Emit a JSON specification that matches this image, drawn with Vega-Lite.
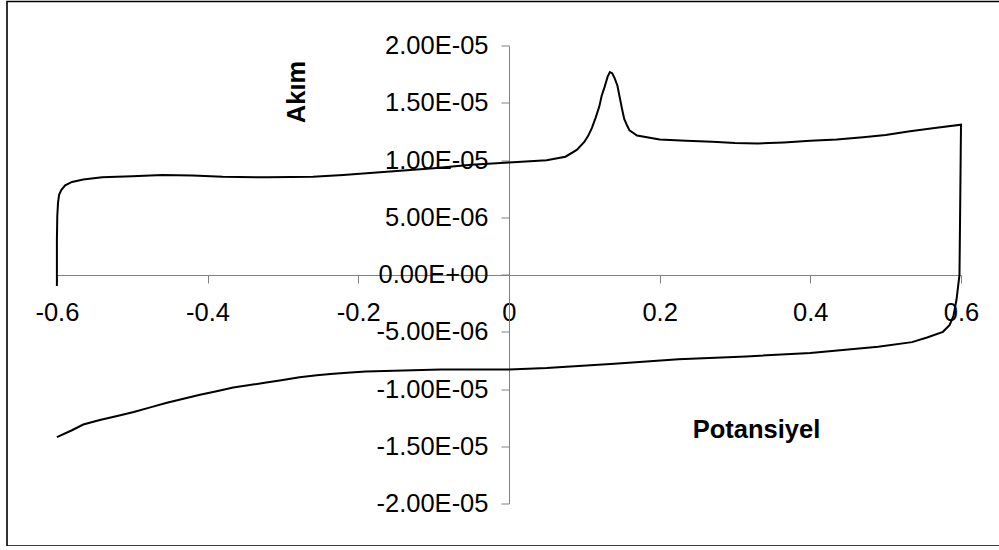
{
  "$schema": "https://vega.github.io/schema/vega-lite/v6.json",
  "width": 993,
  "height": 544.5,
  "autosize": {"type": "none"},
  "padding": {"left": 7, "top": 1.5, "right": 0, "bottom": 0},
  "background": "white",
  "config": {
    "view": {"stroke": "#000000", "strokeWidth": 1.6},
    "font": "Liberation Sans"
  },
  "data": {
    "values": [
      {"i": 1, "p": -0.6, "a": -1.0e-6},
      {"i": 2, "p": -0.6, "a": 3.0e-6},
      {"i": 3, "p": -0.5995, "a": 5.1e-6},
      {"i": 4, "p": -0.5985, "a": 6.3e-6},
      {"i": 5, "p": -0.597, "a": 7.0e-6},
      {"i": 6, "p": -0.594, "a": 7.4e-6},
      {"i": 7, "p": -0.589, "a": 7.8e-6},
      {"i": 8, "p": -0.58, "a": 8.1e-6},
      {"i": 9, "p": -0.565, "a": 8.3e-6},
      {"i": 10, "p": -0.54, "a": 8.5e-6},
      {"i": 11, "p": -0.5, "a": 8.6e-6},
      {"i": 12, "p": -0.46, "a": 8.7e-6},
      {"i": 13, "p": -0.42, "a": 8.65e-6},
      {"i": 14, "p": -0.38, "a": 8.55e-6},
      {"i": 15, "p": -0.32, "a": 8.5e-6},
      {"i": 16, "p": -0.26, "a": 8.55e-6},
      {"i": 17, "p": -0.22, "a": 8.7e-6},
      {"i": 18, "p": -0.18, "a": 8.9e-6},
      {"i": 19, "p": -0.14, "a": 9.1e-6},
      {"i": 20, "p": -0.1, "a": 9.3e-6},
      {"i": 21, "p": -0.05, "a": 9.6e-6},
      {"i": 22, "p": 0.0, "a": 9.8e-6},
      {"i": 23, "p": 0.05, "a": 1.0e-5},
      {"i": 24, "p": 0.075, "a": 1.03e-5},
      {"i": 25, "p": 0.09, "a": 1.09e-5},
      {"i": 26, "p": 0.1, "a": 1.16e-5},
      {"i": 27, "p": 0.105, "a": 1.21e-5},
      {"i": 28, "p": 0.11, "a": 1.28e-5},
      {"i": 29, "p": 0.115, "a": 1.37e-5},
      {"i": 30, "p": 0.12, "a": 1.47e-5},
      {"i": 31, "p": 0.123, "a": 1.56e-5},
      {"i": 32, "p": 0.127, "a": 1.64e-5},
      {"i": 33, "p": 0.131, "a": 1.73e-5},
      {"i": 34, "p": 0.134, "a": 1.77e-5},
      {"i": 35, "p": 0.137, "a": 1.76e-5},
      {"i": 36, "p": 0.14, "a": 1.72e-5},
      {"i": 37, "p": 0.144, "a": 1.65e-5},
      {"i": 38, "p": 0.147, "a": 1.55e-5},
      {"i": 39, "p": 0.15, "a": 1.45e-5},
      {"i": 40, "p": 0.153, "a": 1.36e-5},
      {"i": 41, "p": 0.157, "a": 1.3e-5},
      {"i": 42, "p": 0.16, "a": 1.26e-5},
      {"i": 43, "p": 0.17, "a": 1.215e-5},
      {"i": 44, "p": 0.2, "a": 1.18e-5},
      {"i": 45, "p": 0.235, "a": 1.17e-5},
      {"i": 46, "p": 0.27, "a": 1.16e-5},
      {"i": 47, "p": 0.3, "a": 1.15e-5},
      {"i": 48, "p": 0.33, "a": 1.145e-5},
      {"i": 49, "p": 0.365, "a": 1.155e-5},
      {"i": 50, "p": 0.4, "a": 1.17e-5},
      {"i": 51, "p": 0.435, "a": 1.18e-5},
      {"i": 52, "p": 0.47, "a": 1.2e-5},
      {"i": 53, "p": 0.5, "a": 1.22e-5},
      {"i": 54, "p": 0.53, "a": 1.25e-5},
      {"i": 55, "p": 0.565, "a": 1.28e-5},
      {"i": 56, "p": 0.6, "a": 1.31e-5},
      {"i": 57, "p": 0.598, "a": 0.0},
      {"i": 58, "p": 0.594, "a": -2.2e-6},
      {"i": 59, "p": 0.59, "a": -3.6e-6},
      {"i": 60, "p": 0.585, "a": -4.4e-6},
      {"i": 61, "p": 0.576, "a": -5.0e-6},
      {"i": 62, "p": 0.555, "a": -5.5e-6},
      {"i": 63, "p": 0.535, "a": -5.9e-6},
      {"i": 64, "p": 0.49, "a": -6.3e-6},
      {"i": 65, "p": 0.4, "a": -6.86e-6},
      {"i": 66, "p": 0.315, "a": -7.15e-6},
      {"i": 67, "p": 0.225, "a": -7.4e-6},
      {"i": 68, "p": 0.14, "a": -7.8e-6},
      {"i": 69, "p": 0.05, "a": -8.17e-6},
      {"i": 70, "p": 0.0, "a": -8.3e-6},
      {"i": 71, "p": -0.09, "a": -8.3e-6},
      {"i": 72, "p": -0.19, "a": -8.47e-6},
      {"i": 73, "p": -0.21, "a": -8.55e-6},
      {"i": 74, "p": -0.233, "a": -8.67e-6},
      {"i": 75, "p": -0.255, "a": -8.8e-6},
      {"i": 76, "p": -0.278, "a": -8.96e-6},
      {"i": 77, "p": -0.3, "a": -9.2e-6},
      {"i": 78, "p": -0.322, "a": -9.43e-6},
      {"i": 79, "p": -0.344, "a": -9.65e-6},
      {"i": 80, "p": -0.366, "a": -9.87e-6},
      {"i": 81, "p": -0.388, "a": -1.02e-5},
      {"i": 82, "p": -0.41, "a": -1.05e-5},
      {"i": 83, "p": -0.432, "a": -1.085e-5},
      {"i": 84, "p": -0.454, "a": -1.12e-5},
      {"i": 85, "p": -0.476, "a": -1.16e-5},
      {"i": 86, "p": -0.498, "a": -1.2e-5},
      {"i": 87, "p": -0.52, "a": -1.235e-5},
      {"i": 88, "p": -0.543, "a": -1.27e-5},
      {"i": 89, "p": -0.565, "a": -1.31e-5},
      {"i": 90, "p": -0.58, "a": -1.36e-5},
      {"i": 91, "p": -0.6, "a": -1.42e-5}
    ]
  },
  "mark": {"type": "line", "color": "#000000", "strokeWidth": 2},
  "encoding": {
    "x": {
      "field": "p",
      "type": "quantitative",
      "scale": {"domain": [-0.6, 0.6], "range": [49.9, 954], "nice": false, "zero": false},
      "axis": {
        "values": [-0.6, -0.4, -0.2, 0, 0.2, 0.4, 0.6],
        "labelExpr": "toString(datum.value)",
        "offset": -271,
        "grid": false,
        "tickSize": 8,
        "domainColor": "#808080",
        "tickColor": "#808080",
        "domainWidth": 1,
        "tickWidth": 1,
        "labelFontSize": 25.5,
        "labelColor": "#000000",
        "labelPadding": 17,
        "labelOverlap": false,
        "labelFlush": false,
        "title": "Potansiyel",
        "titleFontSize": 25.5,
        "titleFontWeight": "bold",
        "titleColor": "#000000",
        "titleX": 749,
        "titleY": 154,
        "titleAlign": "center",
        "titleBaseline": "middle",
        "titleAngle": 0
      }
    },
    "y": {
      "field": "a",
      "type": "quantitative",
      "scale": {"domain": [-2e-5, 2e-5], "range": [502, 44.2], "nice": false, "zero": false},
      "axis": {
        "values": [-2e-5, -1.5e-5, -1e-5, -5e-6, 0, 5e-6, 1e-5, 1.5e-5, 2e-5],
        "labelExpr": "replace(replace(replace(format(datum.value, '.2e'), '−', '-'), 'e-', 'E-0'), 'e+', 'E+0')",
        "offset": -502,
        "grid": false,
        "tickSize": 8,
        "domainColor": "#808080",
        "tickColor": "#808080",
        "domainWidth": 1,
        "tickWidth": 1,
        "labelFontSize": 25.5,
        "labelColor": "#000000",
        "labelPadding": 13,
        "labelOverlap": false,
        "labelFlush": false,
        "title": "Akım",
        "titleFontSize": 25.5,
        "titleFontWeight": "bold",
        "titleColor": "#000000",
        "titleX": -213,
        "titleY": 90,
        "titleAlign": "center",
        "titleBaseline": "middle",
        "titleAngle": -90
      }
    },
    "order": {"field": "i"}
  }
}
